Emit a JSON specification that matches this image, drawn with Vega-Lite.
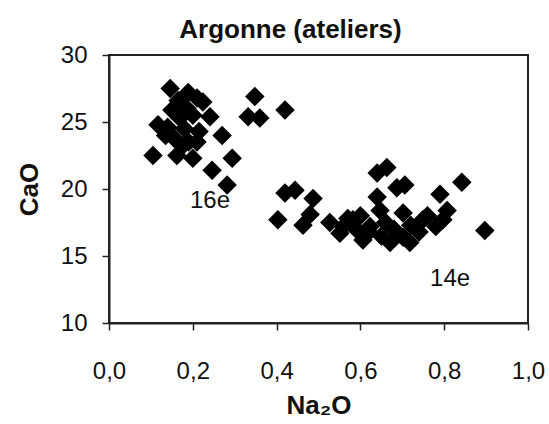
{
  "$schema": "https://vega.github.io/schema/vega-lite/v6.json",
  "width": 419,
  "height": 268,
  "autosize": {"type": "none"},
  "padding": {"left": 109, "top": 55, "right": 21, "bottom": 101},
  "background": "white",
  "config": {
    "font": "Liberation Sans",
    "view": {"stroke": "#222222", "strokeWidth": 2},
    "axis": {"grid": false, "domainColor": "#222222", "domainWidth": 2, "tickColor": "#222222", "tickWidth": 1.5, "tickSize": 7, "labelFont": "Liberation Sans", "labelFontSize": 24, "labelColor": "#111111", "titleFont": "Liberation Sans", "titleFontSize": 26, "titleFontWeight": "bold", "titleColor": "#111111"}
  },
  "title": {"text": "Argonne (ateliers)", "font": "Liberation Sans", "fontSize": 26, "fontWeight": "bold", "color": "#111111", "frame": "group", "anchor": "middle", "dx": -28, "offset": 0},
  "datasets": {
    "pts": [
      {"Na2O": 0.146, "CaO": 27.5}, {"Na2O": 0.189, "CaO": 27.2}, {"Na2O": 0.210, "CaO": 26.8}, {"Na2O": 0.150, "CaO": 25.9},
      {"Na2O": 0.117, "CaO": 24.8}, {"Na2O": 0.169, "CaO": 25.3}, {"Na2O": 0.186, "CaO": 26.0}, {"Na2O": 0.224, "CaO": 26.5},
      {"Na2O": 0.241, "CaO": 25.4}, {"Na2O": 0.270, "CaO": 24.0}, {"Na2O": 0.105, "CaO": 22.5}, {"Na2O": 0.162, "CaO": 22.5},
      {"Na2O": 0.210, "CaO": 23.5}, {"Na2O": 0.200, "CaO": 22.3}, {"Na2O": 0.246, "CaO": 21.4}, {"Na2O": 0.294, "CaO": 22.3},
      {"Na2O": 0.282, "CaO": 20.3}, {"Na2O": 0.332, "CaO": 25.4}, {"Na2O": 0.360, "CaO": 25.3}, {"Na2O": 0.348, "CaO": 26.9},
      {"Na2O": 0.420, "CaO": 25.9}, {"Na2O": 0.135, "CaO": 24.0}, {"Na2O": 0.180, "CaO": 24.5}, {"Na2O": 0.200, "CaO": 25.5},
      {"Na2O": 0.165, "CaO": 26.6}, {"Na2O": 0.215, "CaO": 24.3}, {"Na2O": 0.190, "CaO": 23.5}, {"Na2O": 0.175, "CaO": 23.2},
      {"Na2O": 0.140, "CaO": 24.6}, {"Na2O": 0.155, "CaO": 23.8},
      {"Na2O": 0.420, "CaO": 19.7}, {"Na2O": 0.444, "CaO": 19.9}, {"Na2O": 0.487, "CaO": 19.3}, {"Na2O": 0.403, "CaO": 17.7},
      {"Na2O": 0.463, "CaO": 17.3}, {"Na2O": 0.480, "CaO": 18.1}, {"Na2O": 0.527, "CaO": 17.5}, {"Na2O": 0.551, "CaO": 16.7},
      {"Na2O": 0.582, "CaO": 17.7}, {"Na2O": 0.606, "CaO": 16.2}, {"Na2O": 0.640, "CaO": 21.2}, {"Na2O": 0.663, "CaO": 21.6},
      {"Na2O": 0.640, "CaO": 19.4}, {"Na2O": 0.647, "CaO": 18.4}, {"Na2O": 0.623, "CaO": 17.2}, {"Na2O": 0.671, "CaO": 16.0},
      {"Na2O": 0.687, "CaO": 20.1}, {"Na2O": 0.706, "CaO": 20.3}, {"Na2O": 0.842, "CaO": 20.5}, {"Na2O": 0.790, "CaO": 19.6},
      {"Na2O": 0.897, "CaO": 16.9}, {"Na2O": 0.702, "CaO": 18.2}, {"Na2O": 0.749, "CaO": 17.7}, {"Na2O": 0.797, "CaO": 17.7},
      {"Na2O": 0.807, "CaO": 18.4}, {"Na2O": 0.687, "CaO": 16.7}, {"Na2O": 0.718, "CaO": 16.0}, {"Na2O": 0.702, "CaO": 16.4},
      {"Na2O": 0.560, "CaO": 17.2}, {"Na2O": 0.590, "CaO": 17.0}, {"Na2O": 0.620, "CaO": 16.8}, {"Na2O": 0.660, "CaO": 17.5},
      {"Na2O": 0.680, "CaO": 17.0}, {"Na2O": 0.720, "CaO": 17.3}, {"Na2O": 0.740, "CaO": 16.8}, {"Na2O": 0.570, "CaO": 17.8},
      {"Na2O": 0.600, "CaO": 18.0}, {"Na2O": 0.650, "CaO": 16.5}, {"Na2O": 0.760, "CaO": 18.0}, {"Na2O": 0.780, "CaO": 17.2}
    ],
    "labels": [
      {"Na2O": 0.241, "CaO": 19.1, "label": "16e"},
      {"Na2O": 0.814, "CaO": 13.3, "label": "14e"}
    ]
  },
  "layer": [
    {
      "data": {"name": "pts"},
      "mark": {"type": "point", "shape": "diamond", "filled": true, "color": "#000000", "opacity": 1, "size": 380},
      "encoding": {
        "x": {"field": "Na2O", "type": "quantitative", "title": "Na₂O", "scale": {"domain": [0, 1], "nice": false},
              "axis": {"values": [0, 0.2, 0.4, 0.6, 0.8, 1.0], "labelExpr": "replace(format(datum.value, '.1f'), '.', ',')", "labelPadding": 29, "titlePadding": 9, "labelFlush": false}},
        "y": {"field": "CaO", "type": "quantitative", "title": "CaO", "scale": {"domain": [10, 30], "nice": false, "zero": false},
              "axis": {"values": [10, 15, 20, 25, 30], "labelPadding": 15, "titlePadding": 18, "labelFlush": false}}
      }
    },
    {
      "data": {"name": "labels"},
      "mark": {"type": "text", "font": "Liberation Sans", "fontSize": 24, "color": "#111111", "align": "center", "baseline": "middle"},
      "encoding": {
        "x": {"field": "Na2O", "type": "quantitative"},
        "y": {"field": "CaO", "type": "quantitative"},
        "text": {"field": "label"}
      }
    }
  ]
}
